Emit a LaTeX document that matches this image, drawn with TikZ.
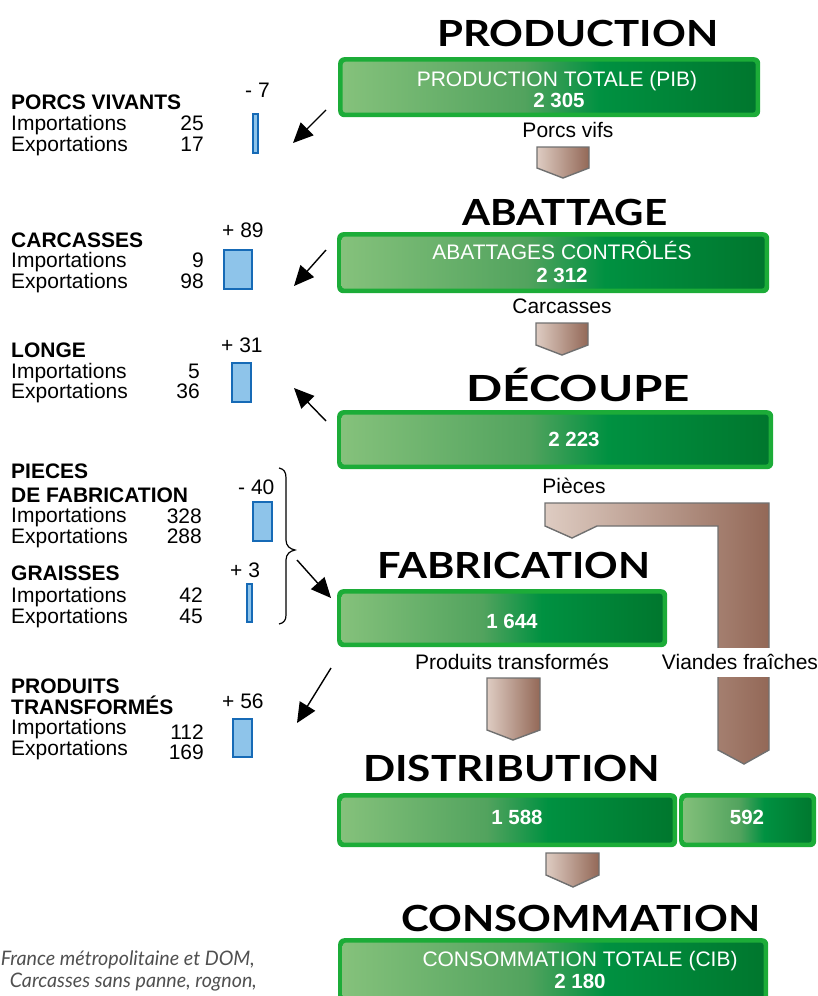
\documentclass[tikz,border=0pt]{standalone}
\usepackage{fontspec}
\usepackage{graphicx}
\setmainfont{Liberation Sans}
\newfontfamily\headfont{Lato}
\newfontfamily\notefont{Lato}
\usetikzlibrary{arrows.meta}
\definecolor{gL}{RGB}{134,194,124}
\definecolor{gM}{RGB}{82,163,94}
\definecolor{gD1}{RGB}{0,145,65}
\definecolor{gD}{RGB}{0,118,45}
\definecolor{gB}{RGB}{28,172,56}
\definecolor{bL}{RGB}{222,204,194}
\definecolor{bD}{RGB}{147,104,87}
\definecolor{bB}{RGB}{112,112,112}
\definecolor{blueF}{RGB}{142,196,234}
\definecolor{blueB}{RGB}{22,106,182}
\definecolor{noteC}{RGB}{80,80,80}
\pgfdeclarehorizontalshading{greensh}{100bp}{color(0bp)=(gL); color(25bp)=(gL); color(47bp)=(gM); color(56bp)=(gD1); color(75bp)=(gD); color(100bp)=(gD)}
\pgfdeclarehorizontalshading{brownsh}{100bp}{color(0bp)=(bL); color(25bp)=(bL); color(75bp)=(bD); color(100bp)=(bD)}
\tikzset{
  gbox/.style={fill=gB, rounded corners=6pt, inner sep=0pt, anchor=north west,
    path picture={\shade[shading=greensh, rounded corners=3pt]
      ([shift={(4.5pt,-4.5pt)}]path picture bounding box.north west) rectangle
      ([shift={(-4.5pt,4.5pt)}]path picture bounding box.south east);}},
  head/.style={font=\headfont\bfseries\fontsize{36}{40}\selectfont, inner sep=0pt, anchor=base west},
  btxt/.style={font=\fontsize{21}{24}\selectfont, text=white, inner sep=0pt, anchor=base},
  bnum/.style={font=\bfseries\fontsize{20.5}{24}\selectfont, text=white, inner sep=0pt, anchor=base},
  lbl/.style={font=\fontsize{21}{24}\selectfont, inner sep=0pt, anchor=base},
  lt/.style={font=\fontsize{21}{24}\selectfont, inner sep=0pt, anchor=base west},
  ltb/.style={font=\bfseries\fontsize{21}{24}\selectfont, inner sep=0pt, anchor=base west},
  num/.style={font=\fontsize{21}{24}\selectfont, inner sep=0pt, anchor=base east},
  brownarrow/.style={shade, shading=brownsh, draw=bB, line width=1.4pt, line join=miter},
  bluebar/.style={fill=blueF, draw=blueB, line width=2pt},
  bkarrow/.style={-{Triangle[length=20pt,width=18pt]}, line width=1.4pt},
  note/.style={font=\notefont\itshape\fontsize{20}{24}\selectfont, text=noteC, inner sep=0pt, anchor=base east}
}
\begin{document}
\begin{tikzpicture}[x=1pt,y=-1pt]
\useasboundingbox (0,0) rectangle (817,996);

% ---------- headings ----------
\node[head] (hprod) at (437,46) {\resizebox{281pt}{\height}{PRODUCTION}};
\node[head] (habat) at (462,225) {\resizebox{205pt}{\height}{ABATTAGE}};
\node[head] (hdec) at (466,401) {\resizebox{224pt}{\height}{DÉCOUPE}};
\node[head] (hfab) at (377,578) {\resizebox{273pt}{\height}{FABRICATION}};
\node[head] (hdist) at (363,781) {\resizebox{297pt}{\height}{DISTRIBUTION}};
\node[head] (hcons) at (401,931) {\resizebox{359pt}{\height}{CONSOMMATION}};

% ---------- green boxes ----------
\node[gbox, minimum width=422pt, minimum height=60pt] (bprod) at (338,57) {};
\node[gbox, minimum width=432pt, minimum height=61pt] (babat) at (337,232) {};
\node[gbox, minimum width=436pt, minimum height=59pt] (bdec) at (337,410) {};
\node[gbox, minimum width=330pt, minimum height=58pt] (bfab) at (337,589) {};
\node[gbox, minimum width=340pt, minimum height=54pt] (bdist1) at (337,793) {};
\node[gbox, minimum width=137pt, minimum height=54pt] (bdist2) at (679,793) {};
\node[gbox, minimum width=430pt, minimum height=76pt] (bcons) at (338,938) {};

% ---------- box texts ----------
\node[btxt] (tprod) at (557,86) {PRODUCTION TOTALE (PIB)};
\node[bnum] (nprod) at (559,107) {2 305};
\node[btxt] (tabat) at (562,259) {ABATTAGES CONTRÔLÉS};
\node[bnum] (nabat) at (562,282) {2 312};
\node[bnum] (ndec) at (574,446) {2 223};
\node[bnum] (nfab) at (512,628) {1 644};
\node[bnum] (ndist1) at (517,824) {1 588};
\node[bnum] (ndist2) at (747,824) {592};
\node[btxt] (tcons) at (580,966) {CONSOMMATION TOTALE (CIB)};
\node[bnum] (ncons) at (580,988) {2 180};

% ---------- brown flow arrows ----------
\draw[brownarrow] (537,147) -- (589,147) -- (589,168) -- (563,178) -- (537,168) -- cycle;
\draw[brownarrow] (536,323) -- (588,323) -- (588,345) -- (562,355) -- (536,345) -- cycle;
\draw[brownarrow] (545,503) -- (769,503) -- (769,750) -- (744,764) -- (718,750) -- (718,526)
   -- (597,526) -- (572,538) -- (545,526) -- cycle;
\draw[brownarrow] (487,678) -- (540,678) -- (540,730) -- (513,740) -- (487,730) -- cycle;
\draw[brownarrow] (546,853) -- (599,853) -- (599,875) -- (573,887) -- (546,875) -- cycle;

% ---------- flow labels ----------
\node[lbl] (lporcs) at (568,137) {Porcs vifs};
\node[lbl] (lcarc) at (562,313) {Carcasses};
\node[lbl] (lpieces) at (574,493) {Pièces};
\node[lbl] (lprod) at (512,669) {Produits transformés};
\fill[white] (715,648) rectangle (772,677);
\node[lbl] (lviandes) at (740,669) {Viandes fraîches};

% ---------- left column: PORCS VIVANTS ----------
\node[ltb] (t1) at (11,109) {PORCS VIVANTS};
\node[lt] (i1) at (11,130) {Importations};
\node[lt] (e1) at (11,151) {Exportations};
\node[num] (ni1) at (204,130) {25};
\node[num] (ne1) at (204,151) {17};
\node[lt] (d1) at (245,97) {- 7};
\draw[bluebar] (253,114) rectangle (258,153);

% CARCASSES
\node[ltb] (t2) at (11,247) {CARCASSES};
\node[lt] (i2) at (11,267) {Importations};
\node[lt] (e2) at (11,288) {Exportations};
\node[num] (ni2) at (204,267) {9};
\node[num] (ne2) at (204,288) {98};
\node[lt] (d2) at (222,237) {+ 89};
\draw[bluebar] (224,250) rectangle (252,289);

% LONGE
\node[ltb] (t3) at (11,357) {LONGE};
\node[lt] (i3) at (11,378) {Importations};
\node[lt] (e3) at (11,398) {Exportations};
\node[num] (ni3) at (200,378) {5};
\node[num] (ne3) at (200,398) {36};
\node[lt] (d3) at (221,352) {+ 31};
\draw[bluebar] (232,363) rectangle (251,402);

% PIECES DE FABRICATION
\node[ltb] (t4a) at (11,478) {PIECES};
\node[ltb] (t4b) at (11,502) {DE FABRICATION};
\node[lt] (i4) at (11,522) {Importations};
\node[lt] (e4) at (11,543) {Exportations};
\node[num] (ni4) at (202,523) {328};
\node[num] (ne4) at (202,543) {288};
\node[lt] (d4) at (238,494) {- 40};
\draw[bluebar] (253,502) rectangle (272,541);

% GRAISSES
\node[ltb] (t5) at (11,580) {GRAISSES};
\node[lt] (i5) at (11,602) {Importations};
\node[lt] (e5) at (11,623) {Exportations};
\node[num] (ni5) at (203,602) {42};
\node[num] (ne5) at (203,623) {45};
\node[lt] (d5) at (230,577) {+ 3};
\draw[bluebar] (247,584) rectangle (252,622);

% PRODUITS TRANSFORMES
\node[ltb] (t6a) at (11,693) {PRODUITS};
\node[ltb] (t6b) at (11,714) {TRANSFORMÉS};
\node[lt] (i6) at (11,734) {Importations};
\node[lt] (e6) at (11,755) {Exportations};
\node[num] (ni6) at (204,739) {112};
\node[num] (ne6) at (204,759) {169};
\node[lt] (d6) at (222,708) {+ 56};
\draw[bluebar] (233,719) rectangle (252,757);

% ---------- brace ----------
\draw[line width=1.2pt] (279,468) .. controls (284,469) and (286,472) .. (286,478) -- (286,540)
  .. controls (286,546) and (290,549) .. (295,550) .. controls (290,551) and (286,554) .. (286,560)
  -- (286,615) .. controls (286,620) and (284,623) .. (279,624);

% ---------- black arrows ----------
\coordinate (a1s) at (326,110); \coordinate (a1e) at (293,143);
\coordinate (a2s) at (326,250); \coordinate (a2e) at (294,286);
\coordinate (a3s) at (326,421); \coordinate (a3e) at (294,388);
\coordinate (a4s) at (297,560); \coordinate (a4e) at (331,598);
\coordinate (a6s) at (331,668); \coordinate (a6e) at (297,723);
\draw[bkarrow] (a1s) -- (a1e);
\draw[bkarrow] (a2s) -- (a2e);
\draw[bkarrow] (a3s) -- (a3e);
\draw[bkarrow] (a4s) -- (a4e);
\draw[bkarrow] (a6s) -- (a6e);

% ---------- note ----------
\node[note] (note1) at (255,965) {\resizebox{254pt}{\height}{France métropolitaine et DOM,}};
\node[note] (note2) at (257,987) {\resizebox{247pt}{\height}{Carcasses sans panne, rognon,}};
\end{tikzpicture}
\end{document}
